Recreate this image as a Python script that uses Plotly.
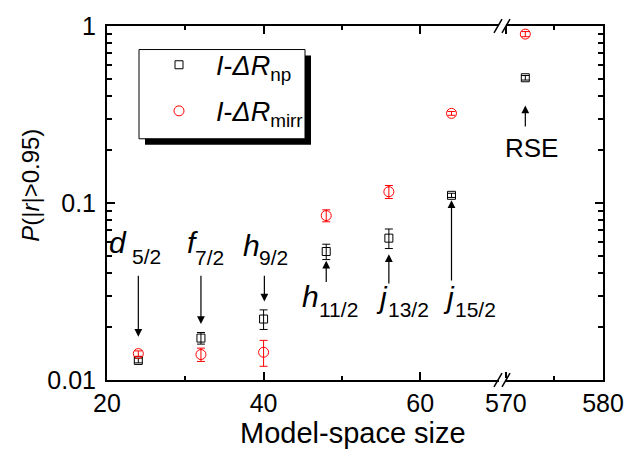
import math
import plotly.graph_objects as go

# ---------------- data ----------------
x_main = [24, 32, 40, 48, 56, 64]
x_rse = [572]
np_main = [0.0129, 0.01725, 0.0221, 0.0532, 0.0633, 0.1105]
np_main_err = [0.0004, 0.0013, 0.0028, 0.0053, 0.0080, 0.0030]
mirr_main = [0.0141, 0.01393, 0.01435, 0.0849, 0.1158, 0.321]
mirr_main_err = [0.0005, 0.0012, 0.0024, 0.0066, 0.0098, 0.0080]
np_rse = [0.51]
np_rse_err = [0.015]
mirr_rse = [0.90]
mirr_rse_err = [0.03]

label_letters = ["d", "f", "h", "h", "j", "j"]
label_subs = ["5/2", "7/2", "9/2", "11/2", "13/2", "15/2"]
y_tickvals = [0.01, 0.1, 1]
y_ticktext = ["0.01", "0.1", "1"]
x1_ticks = [20, 40, 60]
x2_ticks = [570, 580]

# ---------------- geometry ----------------
W, H = 636, 449
L, R, T, B = 107, 603, 19, 380
SPLIT = 502
FONT = "Liberation Sans, Arial, sans-serif"


def px(xp):
    return (xp - L) / (R - L)


def py(yp):
    return 1 - (yp - T) / (B - T)


dom_split = px(SPLIT)

fig = go.Figure()


def err(a):
    return dict(type="data", array=a, arrayminus=a, thickness=1, width=4)


fig.add_trace(go.Scatter(
    x=x_main, y=np_main, mode="markers", xaxis="x", yaxis="y",
    name="<i>I</i>-<i>ΔR</i><sub>np</sub>", legendgroup="a",
    marker=dict(symbol="square-open", size=8, color="black", line=dict(width=1)),
    error_y=dict(err(np_main_err), color="black")))
fig.add_trace(go.Scatter(
    x=x_main, y=mirr_main, mode="markers", xaxis="x", yaxis="y",
    name="<i>I</i>-<i>ΔR</i><sub>mirr</sub>", legendgroup="b",
    marker=dict(symbol="circle-open", size=10, color="red", line=dict(width=1)),
    error_y=dict(err(mirr_main_err), color="red")))
fig.add_trace(go.Scatter(
    x=x_rse, y=np_rse, mode="markers", xaxis="x2", yaxis="y", showlegend=False,
    legendgroup="a",
    marker=dict(symbol="square-open", size=8, color="black", line=dict(width=1)),
    error_y=dict(err(np_rse_err), color="black")))
fig.add_trace(go.Scatter(
    x=x_rse, y=mirr_rse, mode="markers", xaxis="x2", yaxis="y", showlegend=False,
    legendgroup="b",
    marker=dict(symbol="circle-open", size=10, color="red", line=dict(width=1)),
    error_y=dict(err(mirr_rse_err), color="red")))

ax_common = dict(showline=True, linecolor="black", linewidth=2, ticks="inside",
                 tickcolor="black", tickwidth=1.5, ticklen=8, showgrid=False,
                 zeroline=False, mirror="ticks",
                 tickfont=dict(family=FONT, size=25, color="black"))

minor_y = []
for d in [0.01, 0.1]:
    minor_y += [d * k for k in range(2, 10)]

fig.update_layout(
    width=W, height=H,
    margin=dict(l=L, r=W - R, t=T, b=H - B, pad=0),
    paper_bgcolor="white", plot_bgcolor="white",
    font=dict(family=FONT, color="black"),
    showlegend=True,
    xaxis=dict(ax_common, domain=[0, dom_split], range=[20, 70.45], anchor="y",
               tickvals=x1_ticks, ticktext=[str(v) for v in x1_ticks],
               minor=dict(tickvals=[30, 50], ticks="inside", ticklen=4,
                          tickcolor="black", tickwidth=1.5)),
    xaxis2=dict(ax_common, domain=[dom_split, 1], range=[569.6, 580], anchor="y",
                tickvals=x2_ticks, ticktext=[str(v) for v in x2_ticks],
                minor=dict(tickvals=[575], ticks="inside", ticklen=4,
                           tickcolor="black", tickwidth=1.5)),
    yaxis=dict(ax_common, type="log", range=[-2, 0], anchor="x", mirror=False,
               tickvals=y_tickvals, ticktext=y_ticktext, ticklabelstandoff=4,
               minor=dict(tickvals=minor_y, ticks="inside", ticklen=5,
                          tickcolor="black", tickwidth=1.5)),
    yaxis2=dict(ax_common, type="log", range=[-2, 0], anchor="x2", overlaying="y",
                side="right", mirror=False, showticklabels=False,
                tickvals=y_tickvals,
                minor=dict(tickvals=minor_y, ticks="inside", ticklen=5,
                           tickcolor="black", tickwidth=1.5)),
    legend=dict(x=px(142), y=py(34), xanchor="left", yanchor="top",
                bgcolor="rgba(0,0,0,0)", borderwidth=0, tracegroupgap=8,
                itemwidth=64,
                font=dict(family=FONT, size=27, color="black")),
)

# invisible helper trace so the right-hand mirror axis is drawn
fig.add_trace(go.Scatter(x=[575], y=[0.5], xaxis="x2", yaxis="y2", mode="markers",
                         marker=dict(opacity=0), showlegend=False, hoverinfo="skip"))

shapes = []
# legend shadow and box
shapes.append(dict(type="rect", xref="paper", yref="paper",
                   x0=px(145), x1=px(311), y0=py(140), y1=py(49),
                   fillcolor="black", line=dict(width=0), layer="above"))
shapes.append(dict(type="rect", xref="paper", yref="paper",
                   x0=px(139), x1=px(305), y0=py(134), y1=py(43),
                   fillcolor="white", line=dict(color="black", width=1), layer="above"))
# axis breaks
for yb in (T, B):
    shapes.append(dict(type="rect", xref="paper", yref="paper",
                       x0=px(SPLIT - 3), x1=px(SPLIT + 4), y0=py(yb + 2), y1=py(yb - 2),
                       fillcolor="white", line=dict(width=0), layer="above"))
    for off in (-4, 4):
        cx = SPLIT + off
        shapes.append(dict(type="line", xref="paper", yref="paper",
                           x0=px(cx - 4), y0=py(yb + 7), x1=px(cx + 4), y1=py(yb - 7),
                           line=dict(color="black", width=1.5), layer="above"))
fig.update_layout(shapes=shapes)

ann = []
# letters and subscripts (pixel positions)
letter_pos = [(118, 240), (192, 240), (251, 243), (310, 295), (382, 296), (449, 296)]
sub_pos = [(146, 254), (209, 255), (273, 255), (338, 308), (408, 308), (475, 308)]
for lt, sb, lp, sp in zip(label_letters, label_subs, letter_pos, sub_pos):
    ann.append(dict(text=f"<i>{lt}</i>", xref="paper", yref="paper",
                    x=px(lp[0]), y=py(lp[1]), showarrow=False,
                    xanchor="center", yanchor="middle",
                    font=dict(family=FONT, size=30, color="black")))
    ann.append(dict(text=sb, xref="paper", yref="paper",
                    x=px(sp[0]), y=py(sp[1]), showarrow=False,
                    xanchor="center", yanchor="middle",
                    font=dict(family=FONT, size=21, color="black")))
ann.append(dict(text="RSE", xref="paper", yref="paper", x=px(531), y=py(143),
                showarrow=False, xanchor="center", yanchor="middle",
                font=dict(family=FONT, size=26, color="black")))

# arrows: (xref, x, tip log10 y, tail log10 y)
arrows = [("x", 24, -1.756, -1.402), ("x", 32, -1.684, -1.402),
          ("x", 40.1, -1.557, -1.402), ("x", 48, -1.326, -1.455),
          ("x", 56, -1.289, -1.463), ("x", 64, -0.984, -1.446),
          ("x2", 572, -0.449, -0.576)]
for xr, xv, tip, tail in arrows:
    ann.append(dict(text="", xref=xr, yref="y", x=xv, y=tip,
                    axref=xr, ayref="y", ax=xv, ay=tail, showarrow=True,
                    arrowhead=2, arrowsize=1.3, arrowwidth=1.2, arrowcolor="black",
                    standoff=0, startstandoff=0))

# axis titles
ann.append(dict(text="Model-space size", xref="paper", yref="paper",
                x=px(353), y=py(434), showarrow=False, xanchor="center",
                yanchor="middle", font=dict(family=FONT, size=29, color="black")))
ann.append(dict(text="<i>P</i>(|<i>r</i>|>0.95)", xref="paper", yref="paper",
                x=px(31), y=py(182), showarrow=False, xanchor="center",
                yanchor="middle", textangle=-90,
                font=dict(family=FONT, size=24, color="black")))
fig.update_layout(annotations=ann)

fig.write_html("out.html")
